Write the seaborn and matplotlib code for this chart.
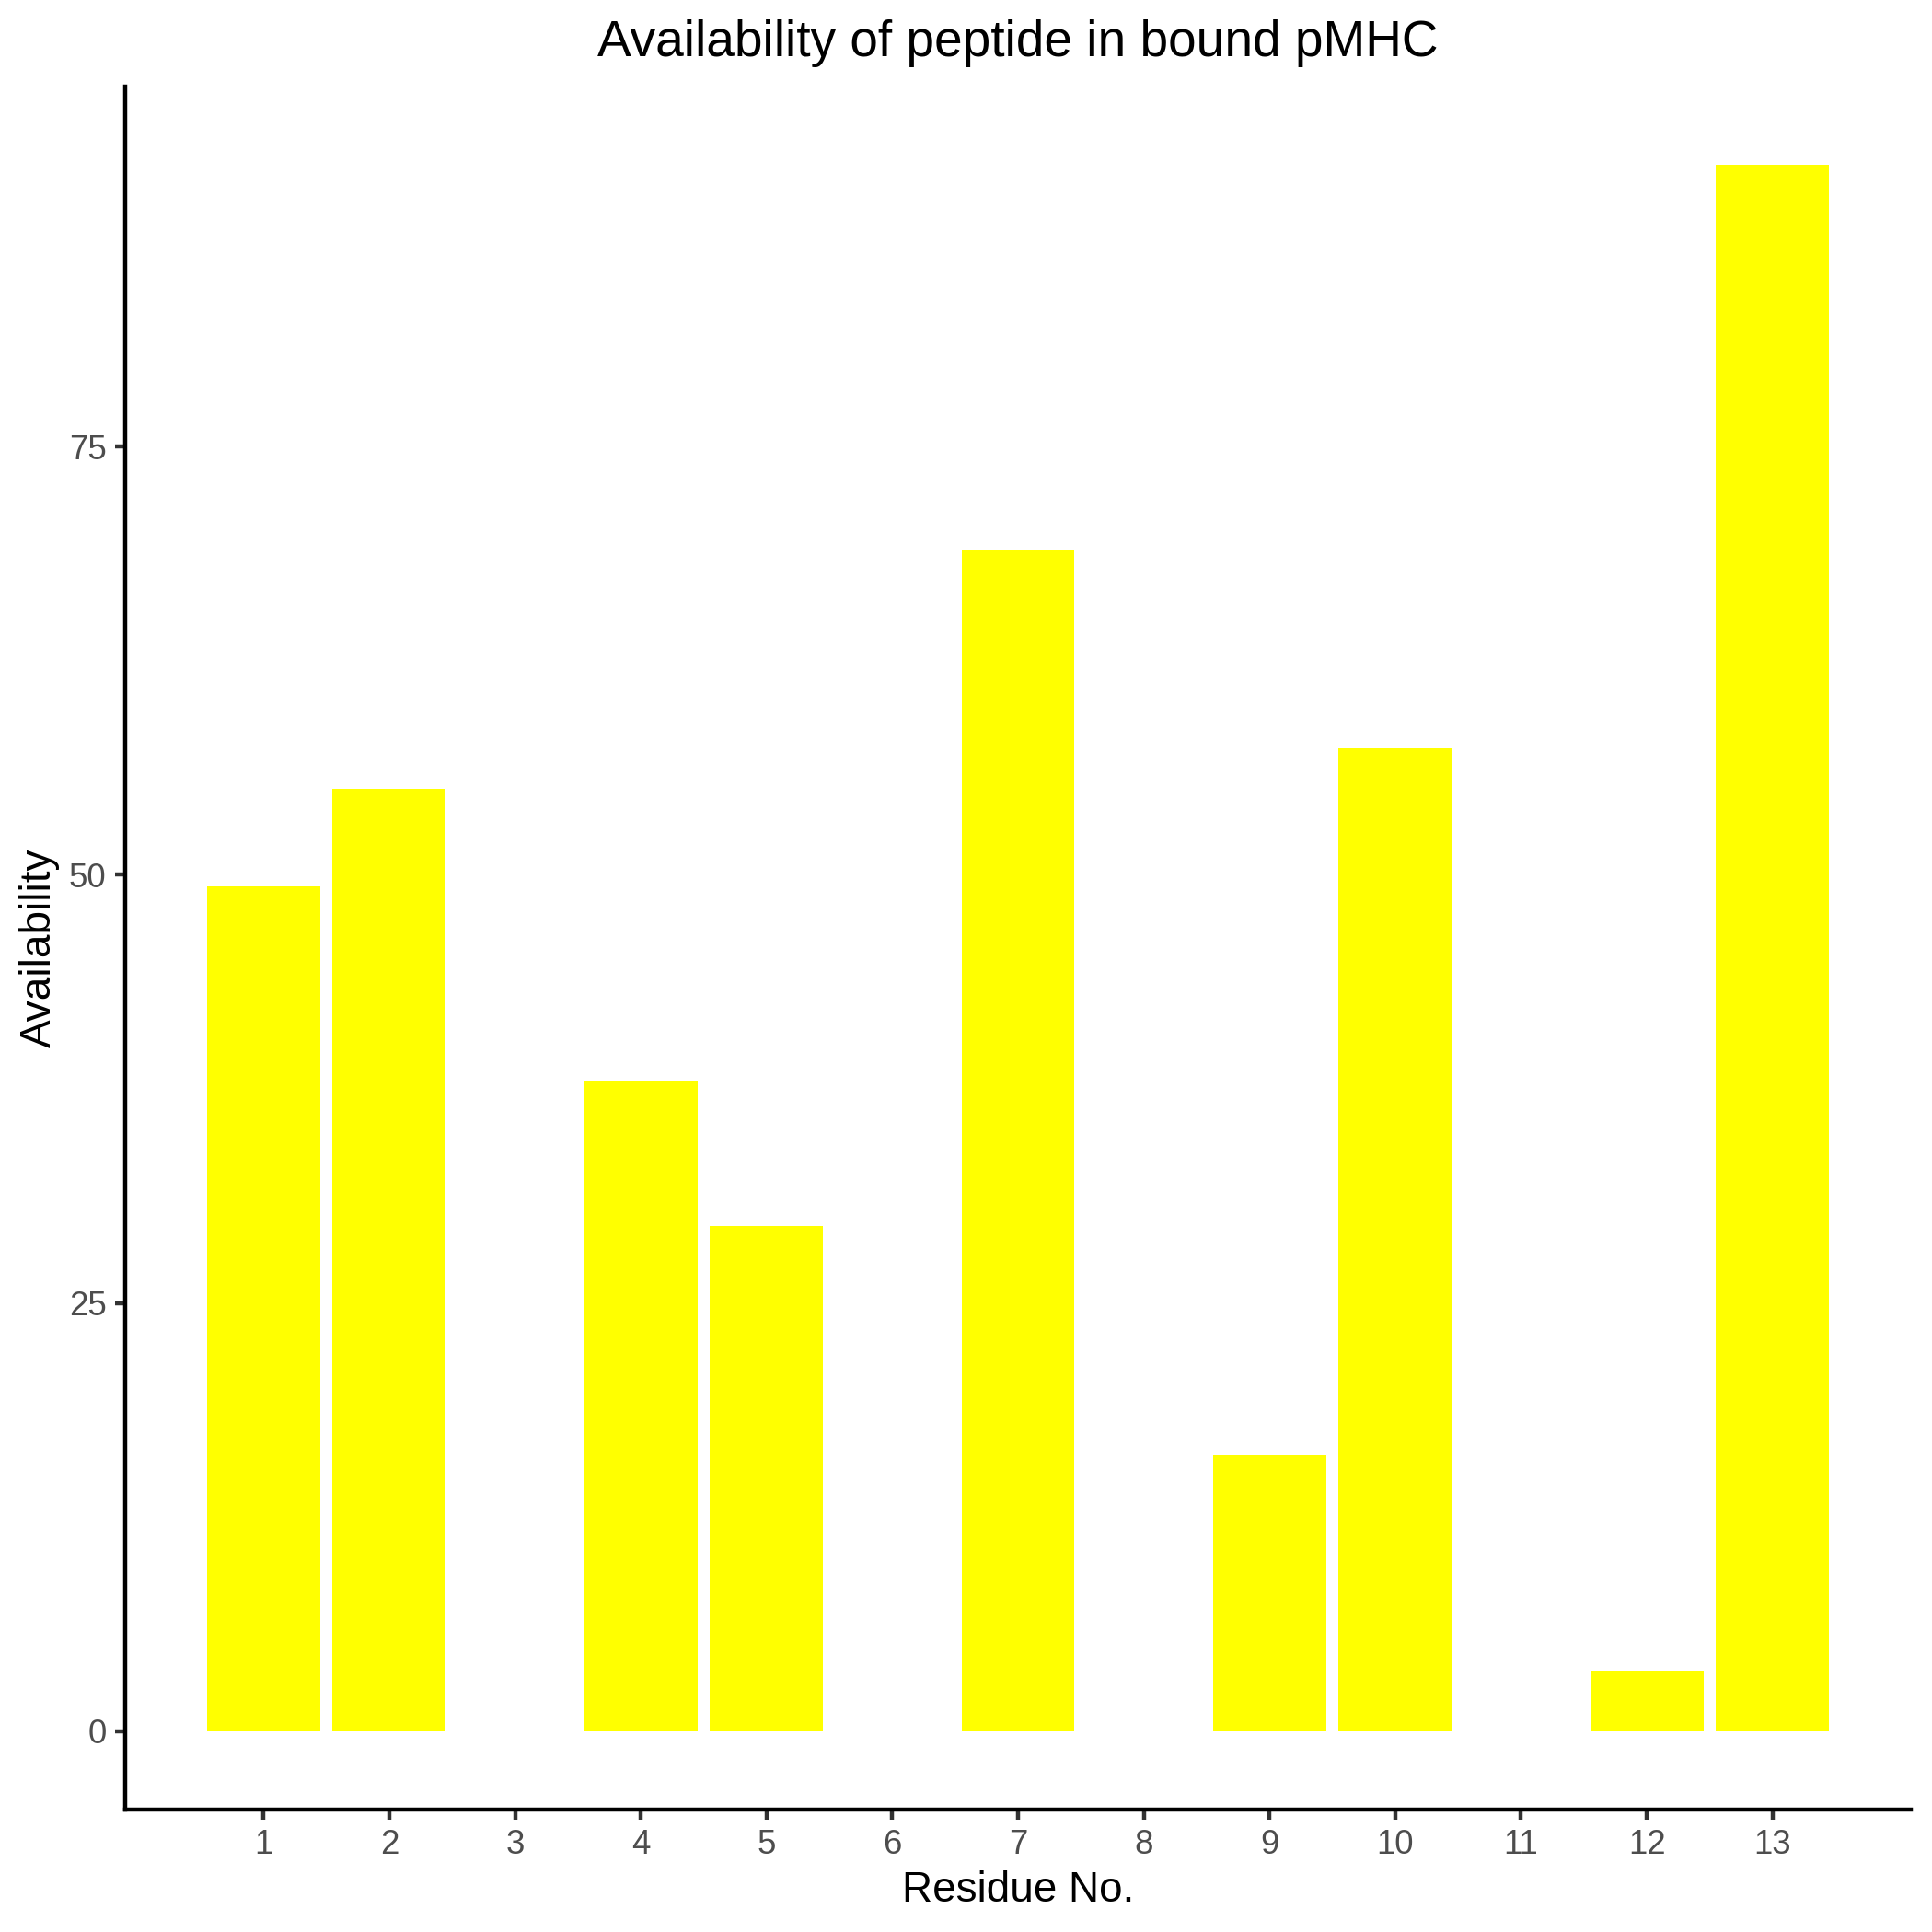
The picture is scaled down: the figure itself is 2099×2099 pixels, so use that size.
import matplotlib
matplotlib.use("Agg")
import matplotlib.pyplot as plt
import seaborn as sns
import pandas as pd

# --- Data ---
residues = list(range(1, 14))
availability = [49.35, 55.0, 0.0, 37.97, 29.5, 0.0, 69.0, 0.0, 16.1, 57.4, 0.0, 3.54, 91.45]
y_ticks = [0, 25, 50, 75]

df = pd.DataFrame({"residue": residues, "availability": availability})

sns.set_style("white")
plt.rcParams["font.family"] = ["Liberation Sans", "DejaVu Sans"]

W = 2099
fig = plt.figure(figsize=(W / 300, W / 300), dpi=300)
ax = fig.add_axes([136 / W, 1 - 1966 / W, (2076 - 136) / W, (1966 - 94) / W])

sns.barplot(data=df, x="residue", y="availability", native_scale=True, width=0.9,
            color="#FFFF00", saturation=1, linewidth=0, ax=ax)

ymax = max(availability)
ax.set_xlim(-0.1, 14.1)
ax.set_ylim(-0.05 * ymax, ymax * 1.05)
ax.set_xticks(residues)
ax.set_xticklabels([str(r) for r in residues])
ax.set_yticks(y_ticks)
ax.set_yticklabels([str(t) for t in y_ticks])

# theme_classic look
for side in ["top", "right"]:
    ax.spines[side].set_visible(False)
for side in ["left", "bottom"]:
    ax.spines[side].set_color("black")
    ax.spines[side].set_linewidth(1.07)
ax.tick_params(axis="both", which="major", length=2.75, width=1.07, color="#333333",
               labelcolor="#4D4D4D", labelsize=8.8, pad=2.2, direction="out",
               bottom=True, left=True)
ax.grid(False)

ax.set_xlabel("Residue No.", fontsize=11, color="black", labelpad=2.6)
ax.set_ylabel("Availability", fontsize=11, color="black", labelpad=2.4)

fig.text((136 + 2076) / 2 / W, 1 - 61 / W, "Availability of peptide in bound pMHC",
         ha="center", va="baseline", fontsize=13.2, color="black")

fig.savefig("out.png", dpi=300, facecolor="white")
